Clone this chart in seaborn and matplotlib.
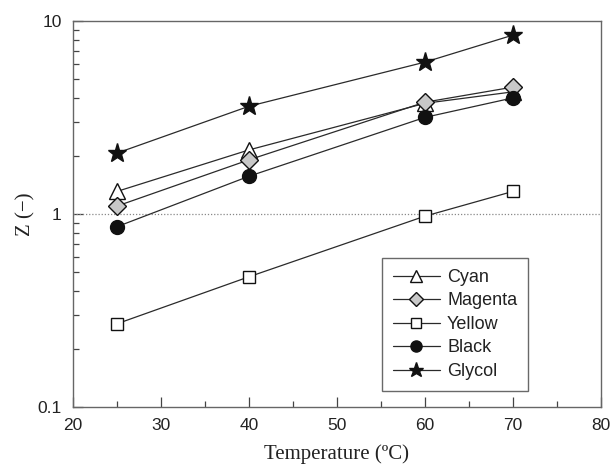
import matplotlib
matplotlib.use("Agg")
import matplotlib.pyplot as plt
import seaborn as sns
import pandas as pd
import numpy as np
from matplotlib.ticker import FixedLocator, FuncFormatter, LogLocator, NullFormatter, MultipleLocator

temperature = [25, 40, 60, 70]
cyan = [1.31, 2.15, 3.75, 4.30]
magenta = [1.10, 1.91, 3.80, 4.55]
yellow = [0.27, 0.473, 0.975, 1.31]
black = [0.86, 1.57, 3.17, 4.00]
glycol = [2.07, 3.62, 6.13, 8.46]

series_names = ["Cyan", "Magenta", "Yellow", "Black", "Glycol"]
series_values = [cyan, magenta, yellow, black, glycol]

df = pd.DataFrame({
    "Temperature": temperature * len(series_names),
    "Z": sum(series_values, []),
    "Series": [n for n in series_names for _ in temperature],
})

sns.set_style("ticks")
plt.rcParams["font.family"] = ["Liberation Sans", "DejaVu Sans"]

fig = plt.figure(figsize=(6.13, 4.66), dpi=100)
ax = fig.add_axes([0.119, 0.1266, 0.861, 0.828])

styles = {
    "Cyan": dict(marker="^", mfc="white", ms=11),
    "Magenta": dict(marker="D", mfc="#c8c8c8", ms=9),
    "Yellow": dict(marker="s", mfc="white", ms=8.5),
    "Black": dict(marker="o", mfc="#111111", ms=10),
    "Glycol": dict(marker="*", mfc="#111111", ms=14),
}

ax.axhline(1, color="#888888", lw=0.9, ls=(0, (1, 1.5)), zorder=1)

for name in series_names:
    st = styles[name]
    sns.lineplot(data=df[df["Series"] == name], x="Temperature", y="Z", ax=ax,
                 color="#2a2a2a", lw=0.9, marker=st["marker"], markersize=st["ms"],
                 markerfacecolor=st["mfc"], markeredgecolor="#111111", markeredgewidth=1.0,
                 label=name, zorder=3)

ax.set_yscale("log")
ax.set_xlim(20, 80)
ax.set_ylim(0.1, 10)
ax.xaxis.set_major_locator(MultipleLocator(10))
ax.xaxis.set_minor_locator(MultipleLocator(5))
ax.yaxis.set_major_locator(FixedLocator([0.1, 1, 10]))
ax.yaxis.set_major_formatter(FuncFormatter(lambda v, p: {0.1: "0.1", 1.0: "1", 10.0: "10"}.get(round(v, 3), "")))
ax.yaxis.set_minor_locator(LogLocator(base=10, subs=np.arange(2, 10)))
ax.yaxis.set_minor_formatter(NullFormatter())

ax.tick_params(axis="both", which="major", direction="in", length=7, width=0.9, color="#444444",
               labelsize=12.5, labelcolor="#222222", pad=8)
ax.tick_params(axis="both", which="minor", direction="in", length=4, width=0.9, color="#444444")
for sp in ax.spines.values():
    sp.set_color("#666666")
    sp.set_linewidth(1.0)

ax.set_xlabel("Temperature (ºC)", family=["Liberation Serif", "DejaVu Serif"], fontsize=15,
              color="#222222", labelpad=8)
ax.set_ylabel("Z (−)", family=["Liberation Serif", "DejaVu Serif"], fontsize=15,
              color="#222222", va="center")
ax.yaxis.set_label_coords(-0.09, 0.5)

leg = ax.legend(loc="lower left", bbox_to_anchor=(0.585, 0.041), borderaxespad=0,
                frameon=True, fancybox=False, fontsize=13, handlelength=2.6,
                handletextpad=0.4, labelspacing=0.36, borderpad=0.62,
                edgecolor="#444444", markerscale=0.8)
leg.get_frame().set_linewidth(1.0)
for t in leg.get_texts():
    t.set_color("#222222")

fig.savefig("out.png", dpi=100)
